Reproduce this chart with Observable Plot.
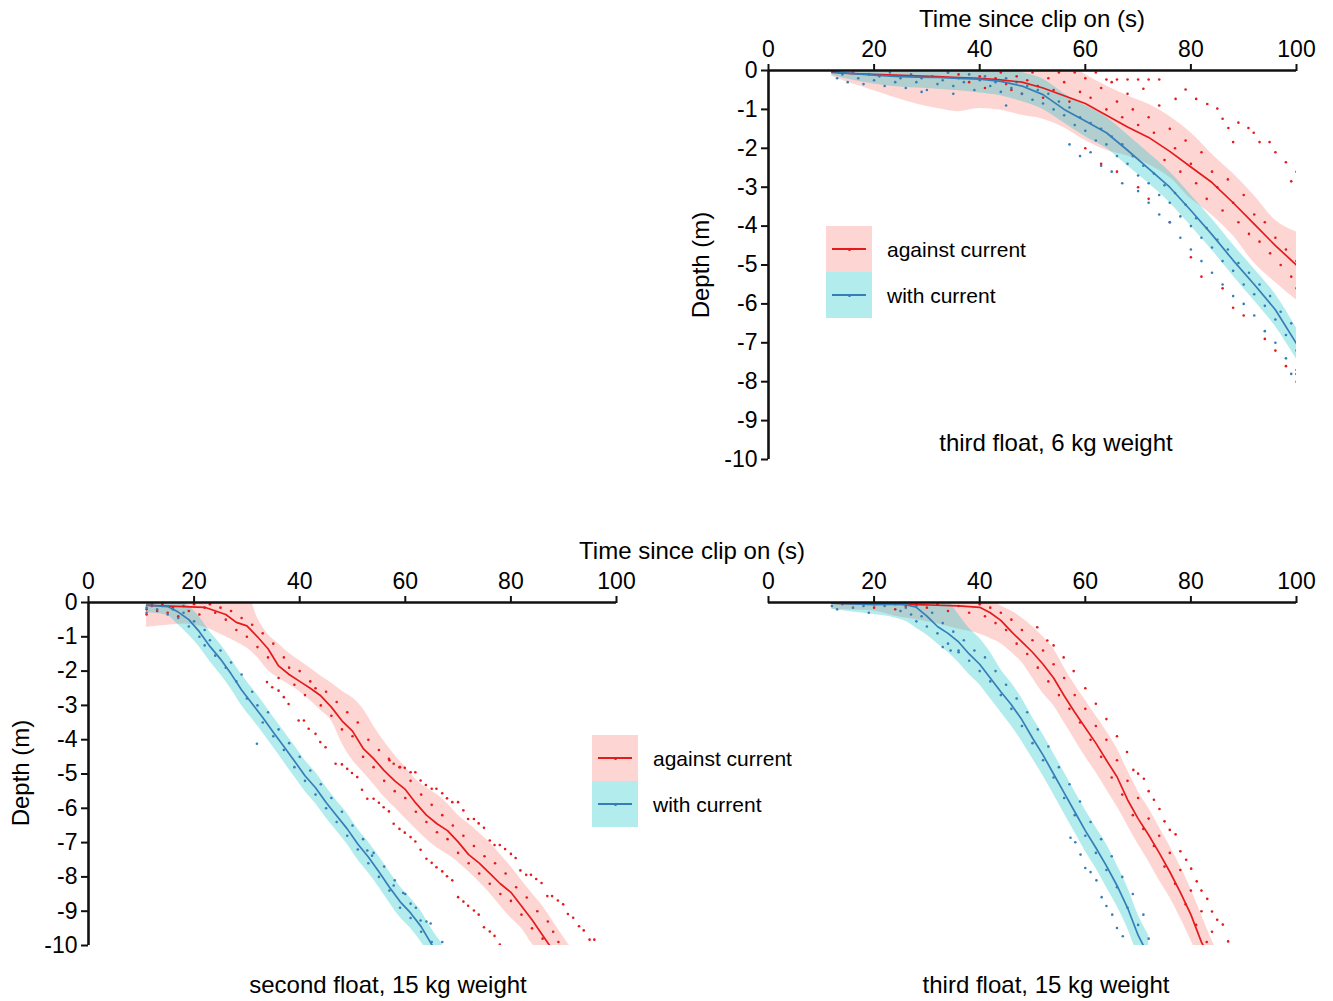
<!DOCTYPE html>
<html><head><meta charset="utf-8">
<script src="https://cdn.jsdelivr.net/npm/d3@7"></script>
<script src="https://cdn.jsdelivr.net/npm/@observablehq/plot@0.6"></script>
<style>
body{margin:0;background:#fff;font-family:"Liberation Sans",Arial,sans-serif;color:#000}
#wrap{position:relative;width:1333px;height:1001px;overflow:hidden;background:#fff}
.abs{position:absolute}
</style></head>
<body><div id="wrap"></div>
<script>
// ---------------- DATA ----------------
const xTicks = [0, 20, 40, 60, 80, 100];
const yTicks = [0, -1, -2, -3, -4, -5, -6, -7, -8, -9, -10];
const seriesLabels = ["against current", "with current"];
const lineColors = ["#E41A1C", "#377EB8"];
const bandColors = ["#F8766D", "#00BFC4"];
const xTitle = "Time since clip on (s)";
const yTitle = "Depth (m)";
const captions = ["third float, 6 kg weight", "second float, 15 kg weight", "third float, 15 kg weight"];

// Panel TR: third float, 6 kg weight
const TR_t = [12,16,20,24,28,32,36,40,44,48,52,56,60,64,68,72,76,80,84,88,92,96,100];
const TR_against_mean = [-0.05,-0.08,-0.1,-0.12,-0.14,-0.16,-0.18,-0.2,-0.24,-0.3,-0.45,-0.65,-0.85,-1.15,-1.45,-1.72,-2.08,-2.48,-2.88,-3.4,-3.95,-4.5,-5.0];
const TR_against_lo = [-0.15,-0.35,-0.52,-0.7,-0.86,-0.98,-1.06,-0.98,-1.02,-1.15,-1.25,-1.47,-1.8,-2.05,-2.2,-2.42,-2.75,-3.3,-3.72,-4.25,-4.95,-5.45,-5.9];
const TR_against_hi = [0.3,0.3,0.3,0.3,0.3,0.3,0.3,0.3,0.3,0.3,0.3,0.2,-0.1,-0.4,-0.65,-0.87,-1.18,-1.6,-2.15,-2.65,-3.22,-3.85,-4.15];
const TR_with_mean = [-0.03,-0.08,-0.12,-0.15,-0.17,-0.18,-0.2,-0.22,-0.28,-0.4,-0.62,-1.0,-1.3,-1.6,-2.05,-2.52,-3.0,-3.6,-4.22,-4.88,-5.5,-6.15,-7.02];
const TR_with_lo = [-0.12,-0.25,-0.35,-0.42,-0.45,-0.48,-0.52,-0.58,-0.65,-0.8,-1.0,-1.35,-1.7,-2.0,-2.45,-2.9,-3.4,-4.0,-4.62,-5.28,-5.92,-6.58,-7.42];
const TR_with_hi = [0.1,0.1,0.1,0.1,0.1,0.1,0.1,0.08,0.05,-0.05,-0.22,-0.6,-0.9,-1.2,-1.65,-2.12,-2.6,-3.2,-3.82,-4.48,-5.1,-5.75,-6.62];
const TR_against_dots = [[34,-0.05],[36,-0.1],[38,-0.3],[40,-0.15],[41,-0.45],[43,-0.2],[44,-0.05],[45,-0.35],[46,-0.5],[47,-0.15],[48,-0.6],[49,-0.25],[50,-0.05],[51,-0.4],[52,-0.7],[53,-0.2],[54,-0.5],[55,-0.05],[56,-0.3],[57,-0.8],[58,-0.05],[59,-0.55],[60,-0.2],[61,-0.7],[62,-0.05],[63,-0.45],[64,-1.0],[65,-0.3],[66,-0.8],[67,-1.2],[68,-0.6],[69,-1.0],[70,-1.4],[72,-1.2],[73,-1.6],[74,-0.9],[75,-2.3],[76,-1.5],[77,-2.0],[78,-2.6],[79,-1.8],[80,-2.4],[81,-2.9],[82,-2.1],[83,-3.3],[84,-2.6],[85,-3.0],[86,-3.6],[87,-2.8],[88,-3.4],[89,-3.9],[90,-3.2],[91,-4.2],[92,-3.7],[93,-4.4],[94,-3.9],[95,-4.7],[96,-4.3],[97,-5.0],[98,-4.6],[99,-5.3],[100,-4.9],[100,-5.6],
  [64,-0.23],[66,-0.23],[68,-0.23],[70,-0.23],[72,-0.23],[74,-0.23],[71,-0.47],[77.1,-0.73],[79,-0.49],[81,-0.73],[83.1,-0.86],[85,-0.98],[86,-1.24],[87.1,-1.48],[88,-1.84],[89,-1.34],[90.9,-1.48],[91.9,-1.6],[93,-1.84],[94.9,-1.84],[96,-2.1],[98,-2.36],[99,-2.85],[100,-2.6],
  [60,-2.0],[63,-2.4],[66,-2.6],[70,-3.0],[72,-3.3],[76,-3.9],[80,-4.8],[82,-5.3],[86,-5.6],[88,-6.1],[90,-6.3],[94,-6.9],[96,-7.2],[98,-7.6],[100,-7.8]];
const TR_with_dots = [[14,-0.1],[15,-0.3],[16,-0.05],[17,-0.2],[18,-0.35],[19,-0.1],[20,-0.25],[21,-0.15],[22,-0.4],[23,-0.05],[24,-0.3],[25,-0.2],[26,-0.45],[27,-0.1],[28,-0.3],[29,-0.2],[30,-0.5],[31,-0.15],[32,-0.35],[33,-0.25],[34,-0.05],[35,-0.4],[36,-0.2],[37,-0.3],[38,-0.1],[39,-0.5],[40,-0.25],[41,-0.15],[42,-0.4],[43,-0.3],[44,-0.55],[45,-0.2],[46,-0.45],[47,-0.3],[48,-0.6],[49,-0.4],[50,-0.75],[51,-0.5],[52,-0.85],[53,-0.6],[54,-1.0],[55,-0.8],[56,-1.15],[57,-0.95],[58,-1.4],[59,-1.2],[60,-1.55],[61,-1.35],[62,-1.8],[63,-1.5],[64,-1.9],[65,-1.7],[66,-2.2],[67,-1.9],[68,-2.4],[69,-2.2],[70,-2.7],[71,-2.45],[72,-2.9],[73,-2.65],[74,-3.2],[75,-2.95],[76,-3.4],[77,-3.15],[78,-3.75],[79,-3.45],[80,-4.0],[81,-3.8],[82,-4.3],[83,-4.05],[84,-4.55],[85,-4.35],[86,-4.9],[87,-4.6],[88,-5.15],[89,-4.95],[90,-5.5],[91,-5.2],[92,-5.75],[93,-5.5],[94,-6.05],[95,-5.8],[96,-6.4],[97,-6.2],[98,-6.8],[99,-6.5],[100,-7.2],
  [57,-1.9],[59,-2.2],[61,-2.1],[63,-2.45],[65,-2.6],[67,-2.9],[70,-3.1],[72,-3.4],[74,-3.7],[76,-3.9],[78,-4.3],[80,-4.6],[82,-4.9],[84,-5.2],[86,-5.5],[88,-5.8],[90,-6.0],[92,-6.3],[94,-6.7],[96,-7.0],[98,-7.4],[100,-7.7],[100,-8.0],[99,-7.8],
  [13,-0.2],[29,-0.55],[35,-0.6],[45,-0.9]];

// Panel BL: second float, 15 kg weight
const BL_against_t = [11,14,18,22,26,28,30,32,34,36,38,40,42,44,46,48,50,52,54,56,58,60,62,64,66,68,70,72,74,76,78,80,82,84,86,88,90,92];
const BL_against_mean = [-0.08,-0.1,-0.12,-0.14,-0.35,-0.58,-0.68,-1.0,-1.35,-1.85,-2.1,-2.3,-2.5,-2.72,-3.05,-3.45,-3.75,-4.25,-4.55,-4.9,-5.2,-5.45,-5.85,-6.2,-6.45,-6.65,-6.98,-7.35,-7.6,-7.9,-8.2,-8.45,-8.85,-9.25,-9.7,-10.15,-10.5,-10.9];
const BL_against_lo = [-0.72,-0.68,-0.63,-0.73,-1.0,-1.15,-1.33,-1.6,-1.98,-2.2,-2.4,-2.6,-2.86,-3.15,-3.45,-4.1,-4.6,-4.95,-5.3,-5.67,-5.98,-6.3,-6.6,-6.9,-7.15,-7.35,-7.57,-7.85,-8.15,-8.48,-8.85,-9.2,-9.5,-9.95,-10.3,-10.6,-11.0,-11.4];
const BL_against_hi = [0.3,0.3,0.3,0.3,0.3,0.3,0.3,-0.45,-0.93,-1.2,-1.48,-1.7,-1.92,-2.14,-2.35,-2.58,-2.78,-3.1,-3.6,-4.05,-4.45,-4.8,-5.15,-5.4,-5.6,-5.87,-6.2,-6.45,-6.72,-7.0,-7.35,-7.7,-8.1,-8.48,-8.85,-9.3,-9.76,-10.2];
const BL_with_t = [11,13,15,17,19,21,23,25,27,29,31,33,35,37,39,41,43,45,47,49,51,53,55,57,59,61,63,65,67];
const BL_with_mean = [-0.08,-0.1,-0.12,-0.28,-0.5,-0.85,-1.28,-1.65,-2.08,-2.55,-2.95,-3.35,-3.78,-4.2,-4.62,-5.05,-5.4,-5.83,-6.22,-6.6,-7.04,-7.42,-7.85,-8.3,-8.72,-9.05,-9.45,-9.97,-10.4];
const BL_with_lo = [-0.3,-0.32,-0.38,-0.65,-0.95,-1.3,-1.72,-2.1,-2.52,-3.0,-3.4,-3.8,-4.22,-4.65,-5.08,-5.5,-5.86,-6.28,-6.66,-7.05,-7.5,-7.88,-8.3,-8.75,-9.18,-9.5,-9.9,-10.4,-10.85];
const BL_with_hi = [0.1,0.1,0.1,0.05,-0.1,-0.42,-0.85,-1.22,-1.65,-2.1,-2.5,-2.9,-3.34,-3.75,-4.17,-4.6,-4.95,-5.38,-5.78,-6.15,-6.6,-6.98,-7.4,-7.85,-8.28,-8.62,-9.0,-9.52,-9.95];
const BL_against_dots = [[11,-0.2],[11,-0.35],[12,-0.1],[13,-0.25],[14,-0.05],[15,-0.3],[16,-0.15],[17,-0.4],[18,-0.1],[19,-0.25],[20,-0.05],[21,-0.35],[22,-0.15],[23,-0.05],[24,-0.3],[25,-0.15],[26,-0.5],[27,-0.25],[28,-0.8],[29,-0.45],[30,-1.0],[31,-0.65],[32,-1.3],[33,-0.9],[34,-1.6],[35,-1.2],[36,-2.2],[37,-1.6],[38,-1.9],[39,-2.4],[40,-2.0],[41,-2.7],[42,-2.3],[43,-2.5],[44,-3.0],[45,-2.6],[46,-3.3],[47,-2.9],[48,-3.7],[49,-3.2],[50,-3.9],[51,-3.5],[52,-4.5],[53,-4.0],[54,-4.8],[55,-4.3],[56,-5.2],[57,-4.6],[58,-5.5],[59,-4.8],[60,-5.7],[61,-5.2],[62,-6.1],[63,-5.6],[64,-6.4],[65,-5.9],[66,-6.7],[67,-6.2],[68,-6.9],[69,-6.5],[70,-7.3],[71,-6.8],[72,-7.6],[73,-7.1],[74,-7.9],[75,-7.4],[76,-8.2],[77,-7.6],[78,-8.5],[79,-7.9],[80,-8.7],[81,-8.3],[82,-9.1],[83,-8.6],[84,-9.5],[85,-9.0],[86,-9.8],[87,-9.3],[88,-9.6],[89,-9.9],
  [33.8,-2.32],[34.8,-2.47],[36.0,-2.57],[37.0,-2.76],[37.9,-2.96],[39.8,-3.44],[40.8,-3.44],[41.7,-3.68],[43.0,-3.83],[43.9,-4.07],[44.9,-4.22],
  [46.8,-4.70],[48.0,-4.72],[49.0,-4.85],[49.9,-4.97],[50.9,-5.09],[51.8,-5.46],[52.8,-5.72],[54.0,-5.72],[55.0,-5.84],[55.9,-5.97],[56.9,-6.09],[57.8,-6.45],[58.9,-6.60],[59.9,-6.71],[61.0,-6.84],[61.9,-6.97],[62.9,-7.21],[64.0,-7.47],[65.0,-7.59],[65.9,-7.72],[67.0,-7.84],[67.9,-7.98],[68.9,-8.10],[70.0,-8.59],[71.0,-8.72],[71.9,-8.84],[73.0,-8.98],[73.9,-9.10],[74.9,-9.47],[76.0,-9.59],[76.9,-9.72],[77.9,-9.97],
  [56.9,-4.56],[57.8,-4.70],[58.9,-4.80],[59.9,-4.82],[61.0,-4.95],[61.9,-4.95],[62.9,-5.19],[63.9,-5.32],[65.0,-5.43],[65.9,-5.43],[67.0,-5.56],[67.9,-5.71],[68.9,-5.82],[70.0,-5.82],[71.0,-6.06],[71.9,-6.31],[73.0,-6.31],[73.9,-6.44],[74.9,-6.57],[76.0,-6.94],[76.9,-7.07],[77.9,-7.07],[78.9,-7.19],[80.0,-7.33],[80.9,-7.45],[81.8,-7.81],[82.9,-7.94],[83.8,-7.94],[84.8,-8.06],[85.8,-8.18],[86.9,-8.56],[87.8,-8.56],[88.9,-8.69],[89.9,-8.80],[90.8,-9.08],[91.8,-9.19],[92.9,-9.44],[93.8,-9.56],[94.9,-9.83],[95.8,-9.83]];
const BL_with_dots = [[11,-0.15],[11,-0.3],[12,-0.05],[13,-0.2],[14,-0.1],[15,-0.35],[16,-0.2],[17,-0.45],[18,-0.3],[19,-0.7],[20,-0.55],[21,-1.0],[22,-0.8],[22,-1.25],[23,-1.1],[24,-1.55],[25,-1.4],[26,-1.9],[27,-1.75],[28,-2.3],[29,-2.1],[30,-2.8],[31,-2.6],[32,-3.0],[33,-3.5],[34,-3.2],[35,-3.9],[36,-3.7],[37,-4.3],[38,-4.1],[39,-4.8],[40,-4.5],[41,-5.2],[42,-4.9],[43,-5.6],[44,-5.3],[45,-6.0],[46,-5.7],[47,-6.4],[48,-6.1],[49,-6.8],[50,-6.5],[51,-7.2],[52,-6.9],[53,-7.6],[54,-7.3],[55,-8.0],[56,-7.7],[57,-8.4],[58,-8.1],[59,-8.9],[60,-8.5],[61,-9.2],[62,-8.9],[63,-9.6],[64,-9.3],[65,-9.9],
  [31.9,-4.12],[52.8,-7.23],[53.7,-7.38],[57.8,-8.25],[59.6,-8.47],[61,-8.78],[62.9,-9.27],[64.8,-9.36],[67,-9.9]];

// Panel BR: third float, 15 kg weight
const BR_against_t = [12,16,20,24,28,32,36,40,42,44,46,48,50,52,54,56,58,60,62,64,66,68,70,72,74,76,78,80,82,84,86];
const BR_against_mean = [-0.02,-0.03,-0.04,-0.05,-0.06,-0.08,-0.1,-0.14,-0.3,-0.52,-0.85,-1.15,-1.45,-1.8,-2.2,-2.72,-3.2,-3.65,-4.1,-4.6,-5.08,-5.75,-6.3,-6.78,-7.3,-7.85,-8.45,-9.1,-9.9,-10.5,-11.1];
const BR_against_lo = [-0.2,-0.22,-0.25,-0.4,-0.5,-0.62,-0.78,-0.92,-1.05,-1.2,-1.45,-1.75,-2.2,-2.65,-3.0,-3.5,-4.0,-4.5,-4.95,-5.45,-5.95,-6.5,-7.05,-7.55,-8.1,-8.6,-9.2,-9.85,-10.6,-11.3,-12];
const BR_against_hi = [0.2,0.2,0.2,0.2,0.2,0.2,0.2,0.2,0.1,-0.1,-0.25,-0.45,-0.7,-1.0,-1.35,-1.9,-2.4,-2.85,-3.3,-3.75,-4.25,-4.9,-5.5,-6.0,-6.55,-7.1,-7.7,-8.35,-9.1,-9.85,-10.5];
const BR_with_t = [12,16,20,24,26,28,30,32,34,36,38,40,42,44,46,48,50,52,54,56,58,60,62,64,66,68,70,72];
const BR_with_mean = [-0.02,-0.04,-0.06,-0.05,-0.06,-0.14,-0.4,-0.7,-0.9,-1.15,-1.5,-1.8,-2.2,-2.6,-2.98,-3.42,-3.95,-4.45,-5.0,-5.55,-6.1,-6.65,-7.15,-7.68,-8.25,-8.9,-9.7,-10.3];
const BR_with_lo = [-0.2,-0.28,-0.35,-0.45,-0.55,-0.75,-0.95,-1.2,-1.45,-1.75,-2.1,-2.4,-2.8,-3.2,-3.6,-4.05,-4.55,-5.05,-5.6,-6.15,-6.7,-7.25,-7.75,-8.3,-8.85,-9.5,-10.3,-10.9];
const BR_with_hi = [0.1,0.1,0.1,0.1,0.1,0.1,0.05,0.0,0.0,-0.35,-0.75,-1.05,-1.45,-1.95,-2.35,-2.8,-3.35,-3.85,-4.4,-4.95,-5.5,-6.05,-6.55,-7.05,-7.65,-8.3,-9.1,-9.7];
const BR_against_dots = [[20,-0.15],[22,-0.05],[24,-0.2],[26,-0.1],[28,-0.05],[30,-0.15],[32,-0.05],[34,-0.25],[36,-0.1],[38,-0.3],[40,-0.05],[41,-0.4],[42,-0.15],[43,-0.6],[44,-0.3],[45,-0.8],[46,-0.5],[47,-1.2],[48,-0.8],[49,-1.5],[50,-1.1],[51,-1.9],[52,-1.4],[53,-2.3],[54,-1.8],[55,-2.7],[56,-2.2],[57,-3.1],[58,-2.7],[59,-3.5],[60,-3.1],[61,-4.0],[62,-3.6],[63,-4.5],[64,-4.0],[65,-5.1],[66,-4.6],[67,-5.6],[68,-5.2],[69,-6.2],[70,-5.7],[71,-6.6],[72,-6.3],[73,-7.1],[74,-6.8],[75,-7.7],[76,-7.3],[77,-8.2],[78,-7.8],[79,-8.8],[80,-8.4],[81,-9.4],[82,-9.0],[83,-9.9],[84,-9.6],
  [50.9,-0.72],[52.8,-1.11],[54.0,-1.25],[55.9,-1.6],[57.8,-2.0],[60,-2.5],[62,-2.95],[64,-3.4],[66,-3.9],
  [67.9,-4.36],[69.1,-4.88],[70.0,-4.99],[71.1,-5.14],[72.0,-5.50],[73.0,-5.75],[74.05,-6.02],[75.0,-6.38],[76.0,-6.63],[77.1,-6.76],[78.0,-7.25],[79.1,-7.50],[80.05,-7.76],[81.1,-8.13],[82.0,-8.40],[83.1,-8.64],[84.0,-9.01],[84.98,-9.25],[86.05,-9.39],[87.06,-9.88]];
const BR_with_dots = [[12,-0.1],[13,-0.2],[14,-0.05],[16,-0.15],[18,-0.1],[19,-0.3],[20,-0.05],[22,-0.1],[24,-0.05],[25,-0.25],[26,-0.15],[27,-0.35],[28,-0.1],[28,-0.55],[29,-0.4],[30,-0.7],[31,-0.3],[32,-0.9],[33,-0.6],[34,-1.2],[35,-0.85],[36,-1.4],[37,-1.1],[38,-1.7],[39,-1.4],[40,-2.0],[41,-1.6],[42,-2.3],[43,-2.0],[44,-2.7],[45,-2.4],[46,-3.1],[47,-2.8],[48,-3.6],[49,-3.2],[50,-4.1],[51,-3.7],[52,-4.6],[53,-4.2],[54,-5.1],[55,-4.8],[56,-5.7],[57,-5.3],[58,-6.2],[59,-5.8],[60,-6.8],[61,-6.4],[62,-7.3],[63,-6.9],[64,-7.8],[65,-7.4],[66,-8.3],[67,-8.0],[68,-8.9],[69,-8.5],[70,-9.4],[71,-9.1],[72,-9.8],
  [33,-1.3],[34.5,-1.4],[36,-1.45],
  [57.2,-6.86],[58.1,-6.99],[59.1,-7.35],[60.0,-7.74],[61.0,-7.86],[62.1,-8.1],[63.1,-8.59],[64.0,-8.85],[65.1,-9.1],[66.0,-9.49],[67.1,-9.73]];

// ---------------- DRAWING ----------------
const fmt = d => String(d);
const rows = (t, mean, lo, hi) => t.map((v, i) => ({t: v, mean: mean[i], lo: lo[i], hi: hi[i]}));
const wrap = document.getElementById("wrap");

function panel(A, B, dotsA, dotsB, g) {
  const marks = [
    Plot.areaY(A, {x: "t", y1: "lo", y2: "hi", fill: bandColors[0], fillOpacity: 0.3, curve: "monotone-x", clip: true}),
    Plot.areaY(B, {x: "t", y1: "lo", y2: "hi", fill: bandColors[1], fillOpacity: 0.3, curve: "monotone-x", clip: true}),
    Plot.dot(dotsA, {x: d => d[0], y: d => d[1], r: 1.3, fill: lineColors[0], stroke: null, clip: true}),
    Plot.dot(dotsB, {x: d => d[0], y: d => d[1], r: 1.3, fill: lineColors[1], stroke: null, clip: true}),
    Plot.line(A, {x: "t", y: "mean", stroke: lineColors[0], strokeWidth: 1.7, clip: true}),
    Plot.line(B, {x: "t", y: "mean", stroke: lineColors[1], strokeWidth: 1.7, clip: true}),
    Plot.ruleY([0], {stroke: "#111", strokeWidth: 2.6}),
    Plot.axisX({ticks: xTicks, anchor: "top", tickSize: 7, tickPadding: 7, strokeWidth: 2, stroke: "#111", tickFormat: fmt, label: null})
  ];
  if (g.yAxis) {
    marks.push(Plot.ruleX([0], {stroke: "#111", strokeWidth: 2.6}));
    marks.push(Plot.axisY({ticks: yTicks, anchor: "left", tickSize: 7, tickPadding: 4, strokeWidth: 2, stroke: "#111", tickFormat: fmt, label: null}));
  } else {
    marks.push(Plot.axisY({ticks: [], label: null}));
  }
  const p = Plot.plot({
    width: g.width, height: g.height,
    marginLeft: g.ml, marginTop: g.mt, marginRight: g.mr, marginBottom: g.mb,
    x: {domain: [0, 100]},
    y: {domain: [-10, 0]},
    style: {fontFamily: "'Liberation Sans', Arial, sans-serif", fontSize: "23px", color: "#000", background: "transparent", overflow: "visible"},
    marks
  });
  p.classList.add("abs");
  p.style.left = g.left + "px";
  p.style.top = g.top + "px";
  wrap.appendChild(p);
}

panel(rows(TR_t, TR_against_mean, TR_against_lo, TR_against_hi),
      rows(TR_t, TR_with_mean, TR_with_lo, TR_with_hi),
      TR_against_dots, TR_with_dots,
      {left: 680, top: 0, width: 650, height: 470, ml: 88, mt: 70, mr: 34, mb: 11, yAxis: true});
panel(rows(BL_against_t, BL_against_mean, BL_against_lo, BL_against_hi),
      rows(BL_with_t, BL_with_mean, BL_with_lo, BL_with_hi),
      BL_against_dots, BL_with_dots,
      {left: 0, top: 530, width: 640, height: 430, ml: 88, mt: 72, mr: 24, mb: 15, yAxis: true});
panel(rows(BR_against_t, BR_against_mean, BR_against_lo, BR_against_hi),
      rows(BR_with_t, BR_with_mean, BR_with_lo, BR_with_hi),
      BR_against_dots, BR_with_dots,
      {left: 680, top: 530, width: 650, height: 430, ml: 88, mt: 72, mr: 34, mb: 15, yAxis: false});

function text(txt, cx, cy, size, rot = 0) {
  const d = document.createElement("div");
  d.className = "abs";
  d.textContent = txt;
  d.style.cssText += `left:${cx}px;top:${cy}px;font-size:${size}px;line-height:1;white-space:nowrap;transform:translate(-50%,-50%) rotate(${rot}deg);`;
  wrap.appendChild(d);
}
text(xTitle, 1032, 19, 24);
text(xTitle, 692, 551, 24);
text(yTitle, 701, 265, 24, -90);
text(yTitle, 21, 773, 24, -90);
text(captions[0], 1056, 443, 24);
text(captions[1], 388, 985, 24);
text(captions[2], 1046, 985, 24);

function legend(x, y) {
  seriesLabels.forEach((lab, i) => {
    const top = y + i * 46;
    const box = document.createElement("div");
    box.className = "abs";
    const rgb = d3.rgb(bandColors[i]);
    box.style.cssText += `left:${x}px;top:${top}px;width:46px;height:46px;background:rgba(${rgb.r},${rgb.g},${rgb.b},0.3);`;
    const ln = document.createElement("div");
    ln.className = "abs";
    ln.style.cssText += `left:6px;top:22px;width:34px;height:2px;background:${lineColors[i]};`;
    const pt = document.createElement("div");
    pt.className = "abs";
    pt.style.cssText += `left:21.5px;top:21.5px;width:3px;height:3px;border-radius:50%;background:${lineColors[i]};`;
    box.appendChild(ln); box.appendChild(pt);
    wrap.appendChild(box);
    const t = document.createElement("div");
    t.className = "abs";
    t.textContent = lab;
    t.style.cssText += `left:${x + 61}px;top:${top + 23}px;font-size:21px;line-height:1;white-space:nowrap;transform:translateY(-50%);`;
    wrap.appendChild(t);
  });
}
legend(826, 226);
legend(592, 735);
</script>
</body></html>
